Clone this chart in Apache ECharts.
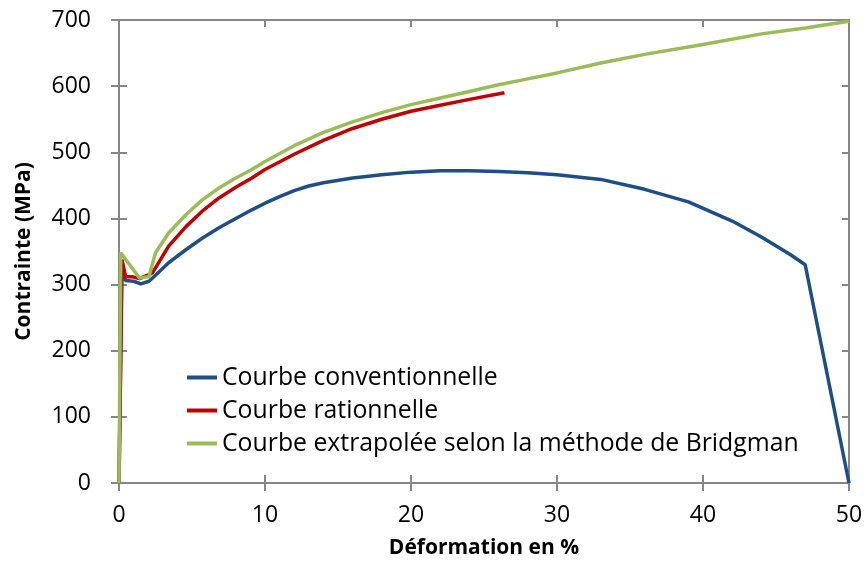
<!DOCTYPE html>
<html>
<head>
<meta charset="utf-8">
<script src="https://cdn.jsdelivr.net/npm/echarts@6/dist/echarts.min.js"></script>
<style>
  html, body { margin: 0; padding: 0; background: #fff; }
  #chart { width: 866px; height: 565px; }
</style>
</head>
<body>
<div id="chart"></div>
<script>
// values (deformation %, stress MPa)
var convX = [0, 0.2, 0.45, 1.0, 1.5, 2.05, 2.3, 3.4, 4.6, 5.7, 6.85, 8, 9.1, 10, 11, 12, 13, 14, 16, 18, 20, 22, 24, 26, 28, 30, 33, 36, 39, 42, 44, 46, 47, 50];
var convY = [0, 322, 306, 305, 301, 305, 310, 333, 353, 370, 386, 400, 413, 423, 433, 442, 449, 454, 461, 466, 470, 472, 472, 471, 469, 466, 459, 444, 425, 396, 372, 345, 330, 0];

var ratX = [0, 0.1, 0.2, 0.45, 0.9, 1.4, 2.05, 2.3, 3.4, 4.6, 5.7, 6.85, 8, 9.1, 10, 12, 14, 16, 18, 20, 22, 24, 26.4];
var ratY = [0, 160, 338, 312, 312, 309, 315, 318, 358, 388, 411, 431, 447, 461, 474, 497, 518, 536, 550, 562, 571, 580, 590];

var bridX = [0, 0.12, 1.4, 2.05, 2.5, 3.4, 4.6, 5.7, 6.85, 8, 9.1, 10, 12, 14, 16, 18, 20, 22, 24, 26, 28, 30, 33, 36, 40, 44, 47, 50];
var bridY = [0, 348, 310, 312, 348, 378, 406, 428, 446, 461, 474, 486, 510, 530, 546, 560, 572, 582, 592, 602, 611, 620, 635, 648, 663, 679, 688, 698];

var seriesNames = ['Courbe conventionnelle', 'Courbe rationnelle', 'Courbe extrapolée selon la méthode de Bridgman'];
var xTicks = [0, 10, 20, 30, 40, 50];
var yTicks = [0, 100, 200, 300, 400, 500, 600, 700];

function pairs(xs, ys) {
    return xs.map(function (x, i) { return [x, ys[i]]; });
}

var font = 'Open Sans';
var axisGrey = '#868686';

var myChart = echarts.init(document.getElementById('chart'));

function xAx(opts) {
    var a = {
        type: 'value', min: xTicks[0], max: xTicks[xTicks.length - 1], interval: 10,
        axisLine: { show: true, onZero: false, lineStyle: { color: axisGrey, width: 2 } },
        axisTick: { show: true, length: 8, lineStyle: { color: axisGrey, width: 2 } },
        axisLabel: { show: false },
        splitLine: { show: false }
    };
    return Object.assign(a, opts);
}
function yAx(opts) {
    var a = {
        type: 'value', min: yTicks[0], max: yTicks[yTicks.length - 1], interval: 100,
        axisLine: { show: true, onZero: false, lineStyle: { color: axisGrey, width: 2 } },
        axisTick: { show: true, length: 8, lineStyle: { color: axisGrey, width: 2 } },
        axisLabel: { show: false },
        splitLine: { show: false }
    };
    return Object.assign(a, opts);
}

var option = {
    animation: false,
    grid: { left: 119, right: 17, top: 20, bottom: 82 },
    legend: {
        orient: 'vertical',
        left: 182, top: 360,
        itemWidth: 30, itemHeight: 4, itemGap: 8,
        icon: 'rect',
        textStyle: { fontFamily: font, fontSize: 24.8, color: '#000' },
        data: seriesNames
    },
    xAxis: [
        xAx({
            position: 'bottom',
            name: 'Déformation en %', nameLocation: 'middle', nameGap: 55,
            nameTextStyle: { fontFamily: font, fontSize: 21, fontWeight: 'bold', color: '#000' },
            axisLabel: { show: true, margin: 21, fontFamily: font, fontSize: 23, color: '#000' }
        }),
        xAx({ position: 'bottom', axisTick: { show: true, inside: true, length: 8, lineStyle: { color: axisGrey, width: 2 } } }),
        xAx({ position: 'top', axisTick: { show: true, inside: true, length: 7, lineStyle: { color: axisGrey, width: 2 } } })
    ],
    yAxis: [
        yAx({
            position: 'left',
            name: 'Contrainte (MPa)', nameLocation: 'middle', nameGap: 84,
            nameTextStyle: { fontFamily: font, fontSize: 21, fontWeight: 'bold', color: '#000' },
            axisLabel: { show: true, margin: 28, fontFamily: font, fontSize: 23, color: '#000' }
        }),
        yAx({ position: 'left', axisTick: { show: true, inside: true, length: 8, lineStyle: { color: axisGrey, width: 2 } } }),
        yAx({ position: 'right', axisTick: { show: true, inside: true, length: 7, lineStyle: { color: axisGrey, width: 2 } } })
    ],
    series: [
        {
            name: seriesNames[0], type: 'line', symbol: 'none', color: '#1F4E87',
            lineStyle: { width: 3.5 }, data: pairs(convX, convY), z: 3
        },
        {
            name: seriesNames[1], type: 'line', symbol: 'none', color: '#C00000',
            lineStyle: { width: 3.5 }, data: pairs(ratX, ratY), z: 4
        },
        {
            name: seriesNames[2], type: 'line', symbol: 'none', color: '#9BBB59',
            lineStyle: { width: 3.5 }, data: pairs(bridX, bridY), z: 5
        }
    ]
};

myChart.setOption(option);
</script>
</body>
</html>
